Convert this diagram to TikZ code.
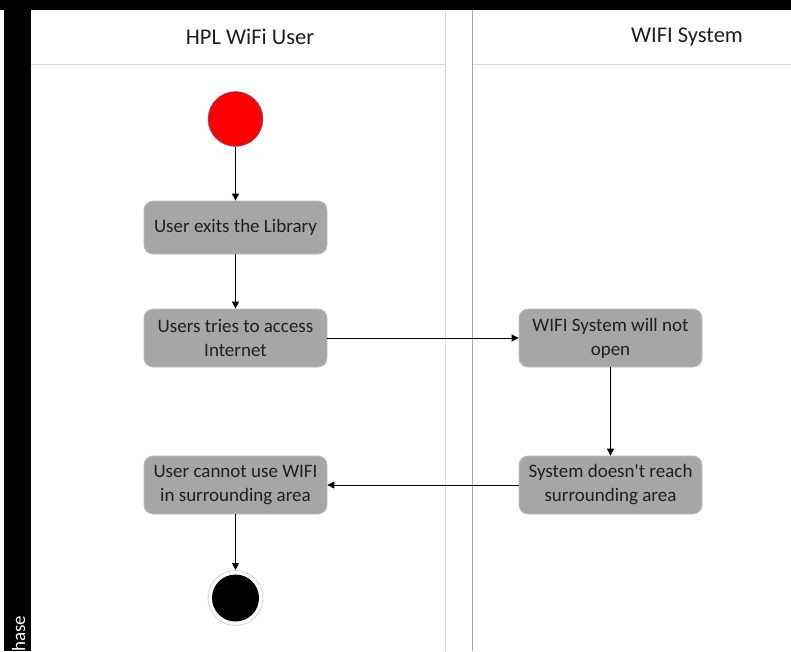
\documentclass[tikz,border=0pt]{standalone}
\usepackage{fontspec}
\setmainfont{Carlito}
\usetikzlibrary{arrows.meta}
\definecolor{boxgray}{HTML}{A6A6A6}
\definecolor{boxedge}{HTML}{BDBDBD}
\definecolor{inkdark}{HTML}{1F1F1F}
\definecolor{lanelight}{HTML}{D9D9D9}
\definecolor{lanemid}{HTML}{A6A6A6}
\definecolor{startedge}{HTML}{5B6FB0}
\tikzset{
  actbox/.style={rectangle, rounded corners=9pt, fill=boxgray, draw=boxedge,
    line width=0.8pt, minimum width=183pt, align=center, text=inkdark,
    inner sep=2pt, font=\fontsize{19}{24}\selectfont},
  lanetitle/.style={text=inkdark, font=\fontsize{22.5}{26}\selectfont},
  flow/.style={draw=black, line width=0.9pt,
    -{Triangle[width=7pt,length=7pt]}},
}
\begin{document}
\begin{tikzpicture}[x=1pt,y=-1pt]
\useasboundingbox (0,0) rectangle (791,651);
\fill[white] (0,0) rectangle (791,651);

% swimlane frame
\fill[black] (0,0) rectangle (791,9.5);
\fill[black] (4,0) rectangle (31,651);
\draw[lanelight, line width=1pt] (31,64.5) -- (445,64.5);
\draw[lanelight, line width=1pt] (472,64.5) -- (791,64.5);
\draw[lanelight, line width=1pt] (445,10) -- (445,651);
\draw[lanemid, line width=1pt] (472.5,10) -- (472.5,651);

% lane titles
\node[lanetitle] (laneA) at (250,37) {HPL WiFi User};
\node[lanetitle] (laneB) at (687,37) {WIFI System};
\node[rotate=90, anchor=west, inner sep=0pt, text=white,
      font=\fontsize{19}{22}\selectfont] (phase) at (18.5,652) {hase};

% activity nodes
\node[circle, fill=red, draw=startedge, line width=0.5pt,
      minimum size=55pt, inner sep=0pt] (start) at (235.5,119) {};
\node[actbox, minimum height=53pt] (exit) at (235.5,227.5) {User exits the Library};
\node[actbox, minimum height=58pt] (access) at (235.5,338) {Users tries to access\\Internet};
\node[actbox, minimum height=58pt] (noopen) at (610.5,338) {WIFI System will not\\open};
\node[actbox, minimum height=58pt] (reach) at (610.5,485) {System doesn\textquotesingle t reach\\surrounding area};
\node[actbox, minimum height=58pt] (cannot) at (235.5,485) {User cannot use WIFI\\in surrounding area};
\node[circle, fill=white, draw=lanelight, line width=1pt,
      minimum size=55pt, inner sep=0pt] (stop) at (235.5,598) {};
\node[circle, fill=black, minimum size=47pt, inner sep=0pt] (stopdot) at (stop.center) {};

% control flow
\draw[flow] (start) -- (exit);
\draw[flow] (exit) -- (access);
\draw[flow] (access) -- (noopen);
\draw[flow] (noopen) -- (reach);
\draw[flow] (reach) -- (cannot);
\draw[flow] (cannot) -- (stop);
\end{tikzpicture}
\end{document}
